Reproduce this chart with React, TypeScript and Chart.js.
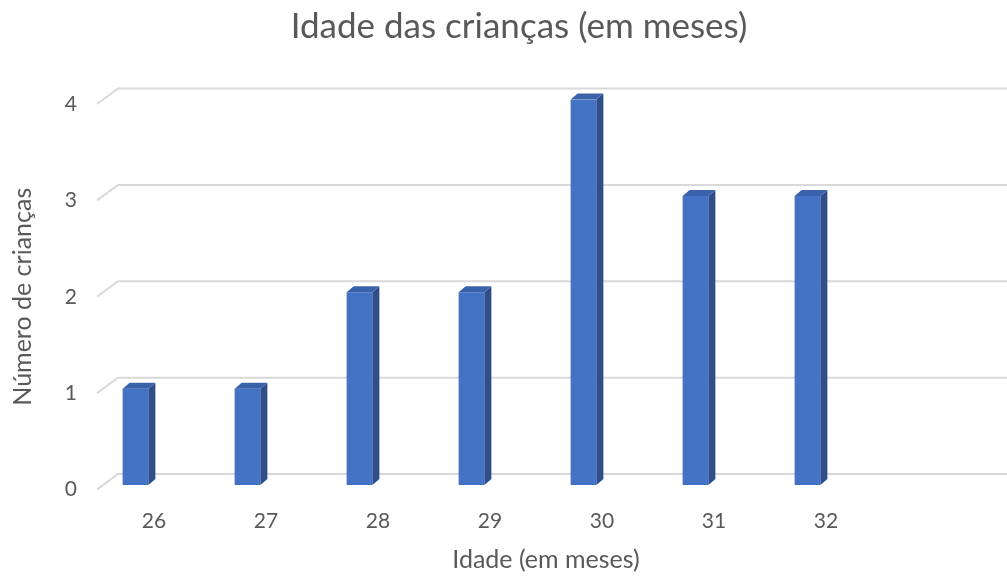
import React, { useEffect, useRef } from "react";
import { Chart, registerables } from "chart.js";

Chart.register(...registerables);

const categories = ["26", "27", "28", "29", "30", "31", "32", ""];
const counts = [1, 1, 2, 2, 4, 3, 3, null];
const yTicks = [0, 1, 2, 3, 4];

const TITLE = "Idade das crianças (em meses)";
const X_TITLE = "Idade (em meses)";
const Y_TITLE = "Número de crianças";

const FONT = "Lato, 'Open Sans', sans-serif";
const TEXT = "#595959";
const GRID = "#d9d9d9";
const FRONT = "#4472C4";
const SIDE = "#2E4F8B";
const TOP = "#3A62AA";

// 3D look
const WALL_DX = 21;
const WALL_DY = 15.5;
const BAR_SHIFT_X = -18.5;
const BAR_SHIFT_Y = -4.5;
const DEPTH_DX = 7;
const DEPTH_DY = 6;

const threeD = {
  id: "threeD",
  beforeDatasetsDraw(chart: any) {
    const { ctx, chartArea, scales } = chart;
    const y = scales.y;
    ctx.save();
    ctx.strokeStyle = GRID;
    ctx.lineWidth = 2;
    for (const v of yTicks) {
      const py = y.getPixelForValue(v);
      ctx.beginPath();
      ctx.moveTo(chartArea.left - 1, py);
      ctx.lineTo(chartArea.left - 1 + WALL_DX, py - WALL_DY);
      ctx.lineTo(chart.width + 5, py - WALL_DY);
      ctx.stroke();
    }
    ctx.restore();
    ctx.save();
    ctx.translate(BAR_SHIFT_X, BAR_SHIFT_Y);
  },
  afterDatasetsDraw(chart: any) {
    const { ctx } = chart;
    const meta = chart.getDatasetMeta(0);
    meta.data.forEach((el: any, i: number) => {
      if (counts[i] == null) return;
      const { x, y, base, width } = el.getProps(["x", "y", "base", "width"], true);
      const l = x - width / 2;
      const r = x + width / 2;
      ctx.fillStyle = SIDE;
      ctx.beginPath();
      ctx.moveTo(r, y);
      ctx.lineTo(r + DEPTH_DX, y - DEPTH_DY);
      ctx.lineTo(r + DEPTH_DX, base - DEPTH_DY);
      ctx.lineTo(r, base);
      ctx.closePath();
      ctx.fill();
      ctx.fillStyle = TOP;
      ctx.beginPath();
      ctx.moveTo(l, y);
      ctx.lineTo(l + DEPTH_DX, y - DEPTH_DY);
      ctx.lineTo(r + DEPTH_DX, y - DEPTH_DY);
      ctx.lineTo(r, y);
      ctx.closePath();
      ctx.fill();
    });
    ctx.restore();
  },
};

export default function App() {
  const ref = useRef<HTMLCanvasElement>(null);
  useEffect(() => {
    document.body.style.margin = "0";
    const chart = new Chart(ref.current!, {
      type: "bar",
      data: {
        labels: categories,
        datasets: [
          {
            data: counts as any,
            backgroundColor: FRONT,
            borderWidth: 0,
            categoryPercentage: 1,
            barPercentage: 0.23,
          },
        ],
      },
      plugins: [threeD],
      options: {
        animation: false,
        responsive: false,
        maintainAspectRatio: false,
        layout: { padding: { left: 0, right: -31, top: 0, bottom: 0 } },
        plugins: {
          legend: { display: false },
          tooltip: { enabled: false },
          title: {
            display: true,
            text: TITLE,
            color: TEXT,
            font: { family: FONT, size: 35, weight: "normal" },
            padding: { top: 6, bottom: 56 },
          },
        },
        scales: {
          x: {
            grid: { display: false, drawTicks: false },
            border: { display: false },
            ticks: { color: TEXT, font: { family: FONT, size: 21 }, padding: 19 },
            title: {
              display: true,
              text: X_TITLE,
              color: TEXT,
              font: { family: FONT, size: 25 },
              padding: { top: 0, bottom: 6 },
            },
            afterFit: (s: any) => {
              s.height = 91.5;
            },
          },
          y: {
            min: 0,
            max: 4,
            grid: { display: false, drawTicks: false },
            border: { display: false },
            ticks: {
              stepSize: 1,
              color: TEXT,
              font: { family: FONT, size: 21 },
              padding: 21,
            },
            title: {
              display: true,
              text: Y_TITLE,
              color: TEXT,
              font: { family: FONT, size: 25 },
              padding: { top: 8, bottom: 0 },
            },
            afterFit: (s: any) => {
              s.width = 98;
            },
          },
          yR: {
            position: "right",
            display: true,
            grid: { display: false, drawTicks: false },
            border: { display: false },
            ticks: { display: false },
            afterFit: (s: any) => {
              s.width = 44;
            },
          },
        },
      },
    });
    return () => chart.destroy();
  }, []);
  return (
    <div style={{ width: 1007, height: 581 }}>
      <canvas ref={ref} width={1007} height={581} style={{ display: "block" }} />
    </div>
  );
}
